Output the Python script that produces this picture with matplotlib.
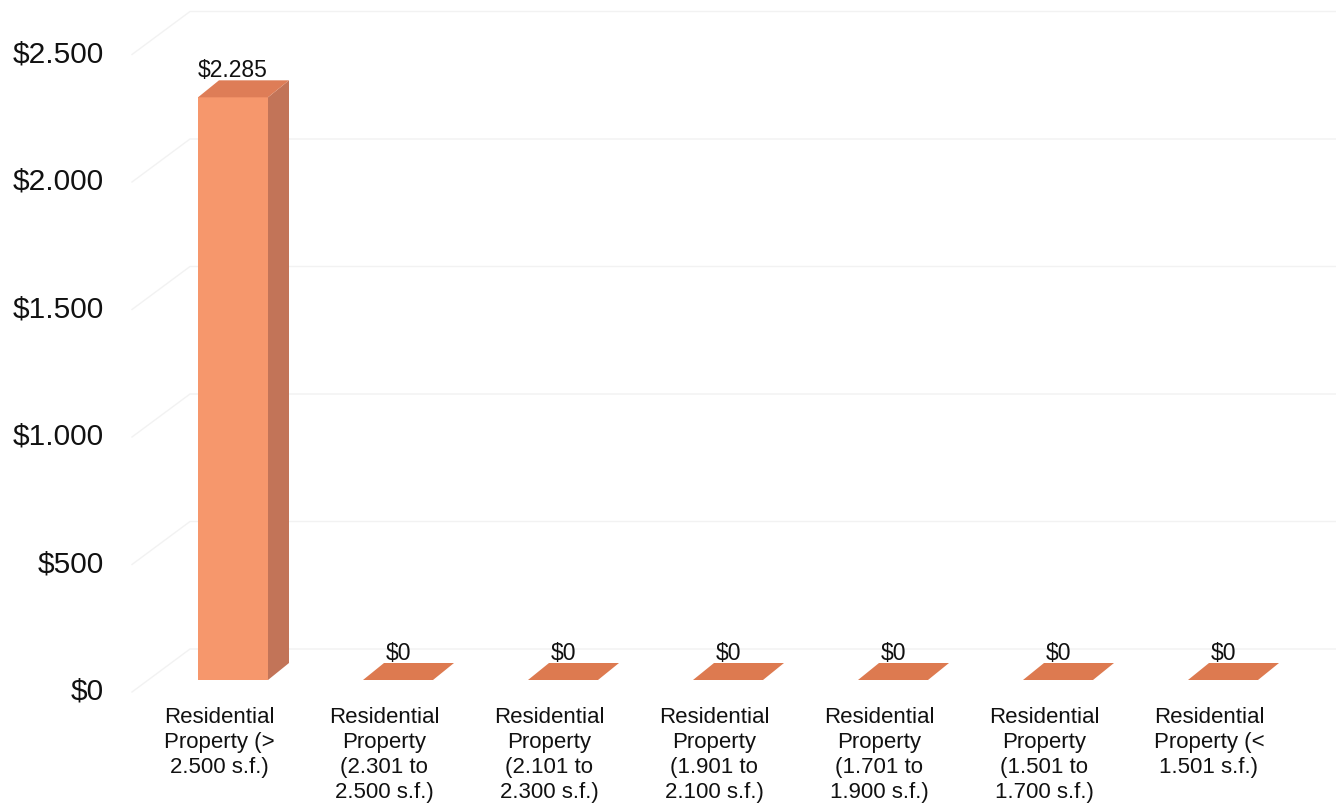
import matplotlib
matplotlib.use("Agg")
import matplotlib.pyplot as plt
from matplotlib.patches import Polygon

categories = [
    "Residential\nProperty (>\n2.500 s.f.)",
    "Residential\nProperty\n(2.301 to\n2.500 s.f.)",
    "Residential\nProperty\n(2.101 to\n2.300 s.f.)",
    "Residential\nProperty\n(1.901 to\n2.100 s.f.)",
    "Residential\nProperty\n(1.701 to\n1.900 s.f.)",
    "Residential\nProperty\n(1.501 to\n1.700 s.f.)",
    "Residential\nProperty (<\n1.501 s.f.)",
]
values = [2285, 0, 0, 0, 0, 0, 0]
y_ticks = [0, 500, 1000, 1500, 2000, 2500]


def money(v):
    return "$" + f"{v:,}".replace(",", ".")


plt.rcParams['font.family'] = ['Liberation Sans', 'DejaVu Sans']

W, H = 1336, 811
fig = plt.figure(figsize=(W / 100, H / 100), dpi=100)
ax = fig.add_axes([0, 0, 1, 1])
ax.axis("off")

# pixel geometry of the pseudo 3d chart
step_px = 165.0      # distance between categories
first_px = 233.0     # centre of first bar front face
zero_px = 131.0      # baseline of bar fronts, from bottom
val_px = 0.255       # pixels per dollar
ax.set_xlim(-first_px / step_px, (W - first_px) / step_px)
ax.set_ylim(-zero_px / val_px, (H - zero_px) / val_px)


def px_x(p):
    return p / step_px


def px_y(p):
    return p / val_px


half_w = px_x(35)
ddx, ddy = px_x(21), px_y(17)

front_c = "#F6976C"
side_c = "#C27458"
top_c = "#DE7D57"
flat_c = "#DD7A50"

# faint wall gridlines (front edge of floor, then back wall)
for v in y_ticks:
    y0 = v - px_y(12)
    xa, xb = px_x(132 - first_px), px_x(190 - first_px)
    ax.plot([xa, xb, ax.get_xlim()[1]], [y0, y0 + px_y(43), y0 + px_y(43)],
            color="#F2F2F2", lw=1, zorder=1)
    ax.text(px_x(104 - first_px), y0, money(v), ha="right", va="center",
            fontsize=21.5, color="#111111")

for i, v in enumerate(values):
    l, r = i - half_w, i + half_w
    if v > 0:
        ax.add_patch(Polygon([(l, 0), (r, 0), (r, v), (l, v)],
                             closed=True, fc=front_c, ec="none", zorder=3))
        ax.add_patch(Polygon([(r, 0), (r + ddx, ddy), (r + ddx, v + ddy), (r, v)],
                             closed=True, fc=side_c, ec="none", zorder=3))
        ax.add_patch(Polygon([(l, v), (r, v), (r + ddx, v + ddy), (l + ddx, v + ddy)],
                             closed=True, fc=top_c, ec="none", zorder=3))
    else:
        ax.add_patch(Polygon([(l, v), (r, v), (r + ddx, v + ddy), (l + ddx, v + ddy)],
                             closed=True, fc=flat_c, ec="none", zorder=3))
    ax.text(i, v + ddy - px_y(2), money(v), ha="center", va="bottom",
            fontsize=16.5, color="#111111", zorder=4)
    ax.text(i - px_x(14), px_y(-27), categories[i], ha="center", va="top",
            fontsize=16, linespacing=1.25, color="#111111")

fig.savefig("out.png", dpi=100)
